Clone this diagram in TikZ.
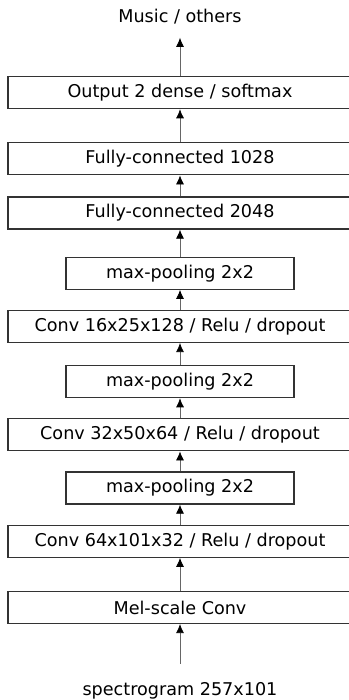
\documentclass[tikz,border=0pt]{standalone}
\usepackage{fontspec}
\setmainfont{DejaVu Sans}
\usetikzlibrary{arrows.meta,positioning}
\tikzstyle{wide}   = [draw=black!80,line width=1.2pt,minimum width=344pt,minimum height=32pt,inner sep=0pt]
\tikzstyle{narrow} = [wide,minimum width=228pt]
\tikzstyle{label}  = [inner sep=3pt,anchor=base]

\begin{document}
\begin{tikzpicture}[->,>={Latex[length=9pt,width=8pt,color=black]},x=1pt,y=1pt,node distance=20pt,
                    font=\fontsize{17.6}{20}\selectfont,every edge/.style={draw=black!60,line width=0.7pt}]
\useasboundingbox (0,0) rectangle (348,700);

\node[label] (spec) at (180,5)   {spectrogram 257x101};
\node[label] (music) at (180,677) {Music / others};

\node[wide]   (mel)               at (180,92.5)       {Mel-scale Conv};
\node[wide]   (conv1) [above=33pt of mel]   {Conv 64x101x32 / Relu / dropout};
\node[narrow] (pool1) [above=of conv1]      {max-pooling 2x2};
\node[wide]   (conv2) [above=of pool1]      {Conv 32x50x64 / Relu / dropout};
\node[narrow] (pool2) [above=of conv2]      {max-pooling 2x2};
\node[wide]   (conv3) [above=22pt of pool2] {Conv 16x25x128 / Relu / dropout};
\node[narrow] (pool3) [above=of conv3]      {max-pooling 2x2};
\node[wide]   (fc1)   [above=27pt of pool3] {Fully-connected 2048};
\node[wide]   (fc2)   [above=21pt of fc1]   {Fully-connected 1028};
\node[wide]   (out)   [above=33pt of fc2]   {Output 2 dense / softmax};

\path
    (spec)  edge[shorten <=15pt] (mel)
    (mel)   edge (conv1)
    (conv1) edge (pool1)
    (pool1) edge (conv2)
    (conv2) edge (pool2)
    (pool2) edge (conv3)
    (conv3) edge (pool3)
    (pool3) edge (fc1)
    (fc1)   edge (fc2)
    (fc2)   edge (out)
    (out)   edge[shorten >=10pt] (music);
\end{tikzpicture}
\end{document}
